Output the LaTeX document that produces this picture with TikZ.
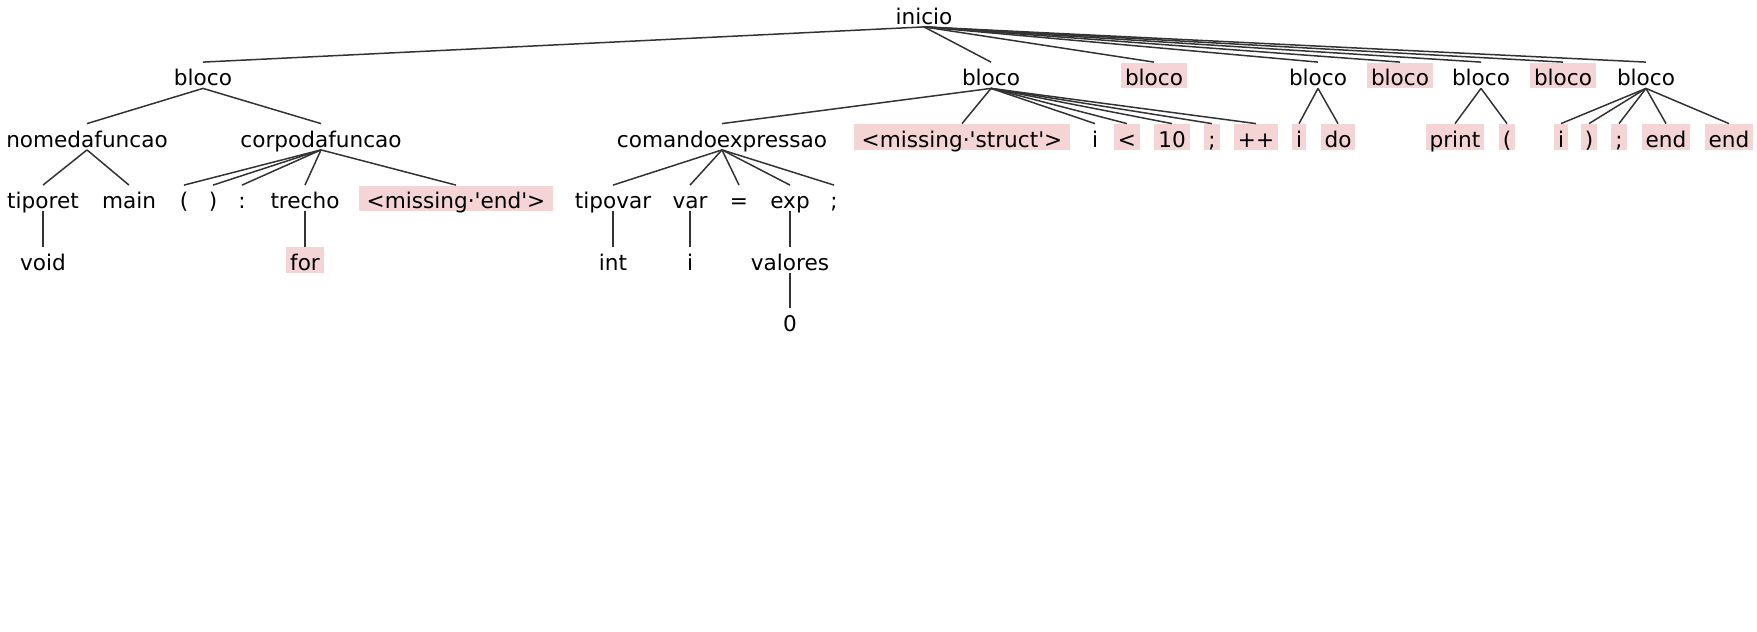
\documentclass[tikz,border=0pt]{standalone}
\usepackage{fontspec}
\setmainfont{DejaVu Sans}
\usepackage{xcolor}
\usepackage{tikz}
\usetikzlibrary{positioning}
\definecolor{trazo}{HTML}{333333}
\definecolor{rosa}{HTML}{F4D4D4}

\begin{document}
\begin{tikzpicture}[x=0.5pt,y=-0.5pt,
    pal/.style={anchor=base,inner xsep=2pt,inner ysep=0pt,text height=11.5pt,
                text depth=1.25pt,font=\fontsize{10.8}{13}\selectfont},
    err/.style={pal,fill=rosa},
    falta/.style={err,inner xsep=4pt},
    rama/.style={draw=trazo,line width=0.75pt}]
  \useasboundingbox (0,0) rectangle (1757,632);
  % raiz y primer nivel
  \node[pal] (ini) at (924,24) {inicio};
  \node[pal] (bl1) at (203,85.5) {bloco};
  \node[pal] (bl2) at (991,85.5) {bloco};
  \node[err] (blE1) at (1154,85.5) {bloco};
  \node[pal] (bl3) at (1318,85.5) {bloco};
  \node[err] (blE2) at (1400,85.5) {bloco};
  \node[pal] (bl4) at (1481,85.5) {bloco};
  \node[err] (blE3) at (1563,85.5) {bloco};
  \node[pal] (bl5) at (1646,85.5) {bloco};
  % segundo nivel
  \node[pal] (nome) at (87,147) {nomedafuncao};
  \node[pal] (corpo) at (321,147) {corpodafuncao};
  \node[pal] (cmd) at (722,147) {comandoexpressao};
  \node[falta] (miss1) at (962,147) {<missing·\textquotesingle struct\textquotesingle>};
  \node[pal] (i1) at (1095,147) {i};
  \node[err] (menor) at (1127,147) {<};
  \node[err] (dez) at (1172,147) {10};
  \node[err] (pv1) at (1212,147) {;};
  \node[err] (mais) at (1256,147) {++};
  \node[err] (i2) at (1299,147) {i};
  \node[err] (do) at (1338,147) {do};
  \node[err] (print) at (1455,147) {print};
  \node[err] (par1) at (1507,147) {(};
  \node[err] (i3) at (1561,147) {i};
  \node[err] (par2) at (1589,147) {)};
  \node[err] (pv2) at (1619,147) {;};
  \node[err] (end1) at (1666,147) {end};
  \node[err] (end2) at (1729,147) {end};
  % tercer nivel
  \node[pal] (tipor) at (43,208.5) {tiporet};
  \node[pal] (main) at (129,208.5) {main};
  \node[pal] (ab) at (184,208.5) {(};
  \node[pal] (fe) at (213,208.5) {)};
  \node[pal] (dp) at (242,208.5) {:};
  \node[pal] (trecho) at (305,208.5) {trecho};
  \node[falta] (miss2) at (456,208.5) {<missing·\textquotesingle end\textquotesingle>};
  \node[pal] (tipov) at (613,208.5) {tipovar};
  \node[pal] (var) at (690,208.5) {var};
  \node[pal] (igual) at (739,208.5) {=};
  \node[pal] (exp) at (790,208.5) {exp};
  \node[pal] (pv3) at (834,208.5) {;};
  % niveles inferiores
  \node[pal] (void) at (43,270) {void};
  \node[err] (for) at (305,270) {for};
  \node[pal] (int) at (613,270) {int};
  \node[pal] (i4) at (690,270) {i};
  \node[pal] (valores) at (790,270) {valores};
  \node[pal] (zero) at (790,331.5) {0};
  % ramas
  \draw[rama] (ini.south) -- (bl1.north);
  \draw[rama] (ini.south) -- (bl2.north);
  \draw[rama] (ini.south) -- (blE1.north);
  \draw[rama] (ini.south) -- (bl3.north);
  \draw[rama] (ini.south) -- (blE2.north);
  \draw[rama] (ini.south) -- (bl4.north);
  \draw[rama] (ini.south) -- (blE3.north);
  \draw[rama] (ini.south) -- (bl5.north);
  \draw[rama] (bl1.south) -- (nome.north);
  \draw[rama] (bl1.south) -- (corpo.north);
  \draw[rama] (nome.south) -- (tipor.north);
  \draw[rama] (nome.south) -- (main.north);
  \draw[rama] (tipor.south) -- (void.north);
  \draw[rama] (corpo.south) -- (ab.north);
  \draw[rama] (corpo.south) -- (fe.north);
  \draw[rama] (corpo.south) -- (dp.north);
  \draw[rama] (corpo.south) -- (trecho.north);
  \draw[rama] (corpo.south) -- (miss2.north);
  \draw[rama] (trecho.south) -- (for.north);
  \draw[rama] (bl2.south) -- (cmd.north);
  \draw[rama] (bl2.south) -- (miss1.north);
  \draw[rama] (bl2.south) -- (i1.north);
  \draw[rama] (bl2.south) -- (menor.north);
  \draw[rama] (bl2.south) -- (dez.north);
  \draw[rama] (bl2.south) -- (pv1.north);
  \draw[rama] (bl2.south) -- (mais.north);
  \draw[rama] (cmd.south) -- (tipov.north);
  \draw[rama] (cmd.south) -- (var.north);
  \draw[rama] (cmd.south) -- (igual.north);
  \draw[rama] (cmd.south) -- (exp.north);
  \draw[rama] (cmd.south) -- (pv3.north);
  \draw[rama] (tipov.south) -- (int.north);
  \draw[rama] (var.south) -- (i4.north);
  \draw[rama] (exp.south) -- (valores.north);
  \draw[rama] (valores.south) -- (zero.north);
  \draw[rama] (bl3.south) -- (i2.north);
  \draw[rama] (bl3.south) -- (do.north);
  \draw[rama] (bl4.south) -- (print.north);
  \draw[rama] (bl4.south) -- (par1.north);
  \draw[rama] (bl5.south) -- (i3.north);
  \draw[rama] (bl5.south) -- (par2.north);
  \draw[rama] (bl5.south) -- (pv2.north);
  \draw[rama] (bl5.south) -- (end1.north);
  \draw[rama] (bl5.south) -- (end2.north);
\end{tikzpicture}
\end{document}
